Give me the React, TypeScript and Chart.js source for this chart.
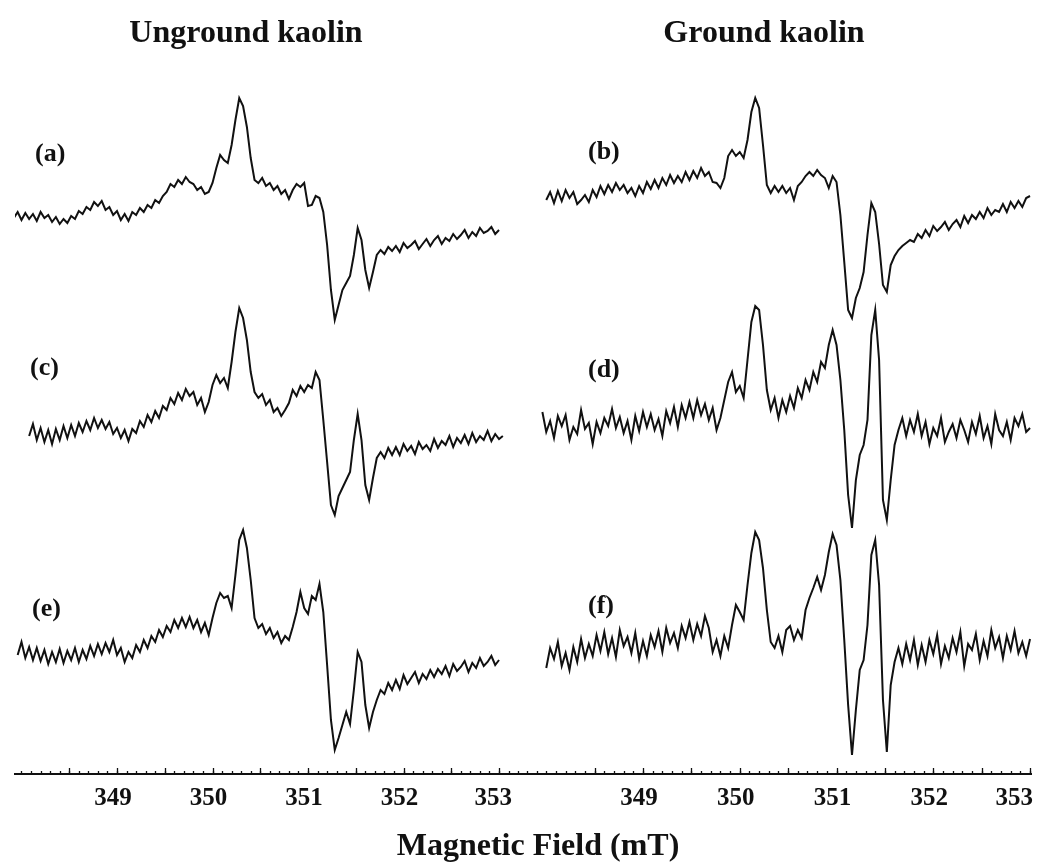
import React, { useEffect, useRef } from "react";
import { Chart, registerables } from "chart.js";

Chart.register(...registerables);

// Magnetic field sweep (mT), shared by every spectrum
const FIELD_MT = [
  347.92, 347.96, 348.00, 348.04, 348.08, 348.12, 348.16, 348.20, 348.24, 348.28,
  348.32, 348.36, 348.40, 348.44, 348.48, 348.52, 348.56, 348.60, 348.64, 348.68,
  348.72, 348.76, 348.80, 348.84, 348.88, 348.92, 348.96, 349.00, 349.04, 349.08,
  349.12, 349.16, 349.20, 349.24, 349.28, 349.32, 349.36, 349.40, 349.44, 349.48,
  349.52, 349.56, 349.60, 349.64, 349.68, 349.72, 349.76, 349.80, 349.84, 349.88,
  349.92, 349.96, 350.00, 350.04, 350.08, 350.12, 350.16, 350.20, 350.24, 350.28,
  350.32, 350.36, 350.40, 350.44, 350.48, 350.52, 350.56, 350.60, 350.64, 350.68,
  350.72, 350.76, 350.80, 350.84, 350.88, 350.92, 350.96, 351.00, 351.04, 351.08,
  351.12, 351.16, 351.20, 351.24, 351.28, 351.32, 351.36, 351.40, 351.44, 351.48,
  351.52, 351.56, 351.60, 351.64, 351.68, 351.72, 351.76, 351.80, 351.84, 351.88,
  351.92, 351.96, 352.00, 352.04, 352.08, 352.12, 352.16, 352.20, 352.24, 352.28,
  352.32, 352.36, 352.40, 352.44, 352.48, 352.52, 352.56, 352.60, 352.64, 352.68,
  352.72, 352.76, 352.80, 352.84, 352.88, 352.92, 352.96, 353.00, 353.04,
];

// EPR signal intensities (arbitrary units, relative to each trace's baseline)
const SPEC_A = [
  -1, 5, -3, 4, -2, 3, -4, 5, -1, 2,
  -5, 0, -7, -2, -6, 1, -2, 6, 3, 10,
  7, 15, 11, 16, 7, 10, 2, 6, -3, 3,
  -4, 5, 2, 9, 5, 12, 9, 17, 14, 21,
  25, 33, 30, 37, 33, 40, 35, 33, 27, 30,
  23, 25, 34, 49, 62, 57, 54, 72, 97, 119,
  111, 90, 59, 37, 34, 39, 31, 34, 27, 31,
  23, 27, 18, 27, 33, 30, 34, 11, 12, 21,
  19, 5, -28, -73, -103, -88, -73, -66, -59, -38,
  -11, -23, -53, -71, -55, -38, -33, -37, -30, -34,
  -29, -35, -26, -31, -28, -24, -32, -27, -22, -29,
  -23, -19, -27, -21, -24, -17, -22, -18, -13, -21,
  -15, -19, -11, -16, -14, -10, -17, -13, null,
];

const SPEC_C = [
  null, null, null, null, -12, 0, -16, -4, -18, -6,
  -20, -5, -16, -2, -14, -1, -12, 1, -8, 3,
  -6, 6, -4, 4, -5, 2, -10, -4, -14, -6,
  -17, -5, -9, 3, -3, 9, 2, 13, 6, 18,
  14, 26, 20, 31, 24, 35, 28, 32, 19, 26,
  12, 22, 39, 49, 41, 46, 36, 62, 92, 116,
  106, 84, 52, 32, 26, 30, 19, 24, 12, 16,
  8, 14, 21, 34, 28, 38, 32, 39, 36, 52,
  44, 4, -38, -81, -91, -72, -64, -56, -48, -16,
  10, -16, -61, -76, -54, -34, -28, -34, -24, -31,
  -23, -31, -20, -27, -22, -30, -18, -25, -21, -27,
  -15, -24, -17, -21, -12, -23, -14, -19, -11, -20,
  -9, -18, -12, -16, -7, -17, -10, -15, -12,
];

const SPEC_E = [
  null, -11, 2, -14, -3, -16, -4, -17, -6, -20,
  -8, -18, -5, -19, -7, -16, -4, -18, -6, -15,
  -2, -12, 0, -10, 1, -8, 4, -11, -4, -18,
  -8, -14, -1, -8, 4, -4, 8, 2, 14, 7,
  18, 12, 24, 16, 26, 17, 27, 16, 24, 12,
  21, 9, 26, 41, 51, 46, 48, 36, 69, 104,
  114, 96, 64, 26, 16, 20, 10, 16, 6, 12,
  1, 8, 4, 17, 32, 52, 36, 30, 48, 44,
  60, 32, -21, -76, -106, -94, -81, -68, -80, -46,
  -8, -18, -61, -84, -68, -56, -46, -50, -39, -46,
  -36, -45, -31, -40, -34, -28, -39, -30, -35, -26,
  -33, -25, -30, -22, -32, -20, -27, -23, -17, -28,
  -19, -24, -14, -22, -18, -12, -21, -16, null,
];

const SPEC_B = [
  null, null, 0, 8, -3, 9, -1, 10, 2, 8,
  -4, 0, 5, -2, 10, 3, 14, 6, 15, 8,
  17, 10, 15, 7, 12, 4, 14, 7, 18, 11,
  20, 12, 22, 15, 25, 17, 24, 18, 28, 20,
  29, 22, 32, 24, 28, 18, 17, 12, 22, 44,
  50, 44, 48, 42, 60, 88, 102, 92, 55, 15,
  7, 14, 8, 14, 7, 12, 0, 14, 18, 24,
  28, 24, 30, 25, 22, 12, 24, 18, -15, -62,
  -110, -118, -98, -88, -72, -35, -3, -12, -44, -85,
  -92, -65, -56, -50, -46, -43, -40, -42, -34, -38,
  -30, -36, -26, -31, -27, -22, -30, -24, -20, -27,
  -16, -23, -15, -19, -12, -18, -8, -15, -10, -12,
  -4, -12, -2, -8, -1, -7, 2, 4, null,
];

const SPEC_D = [
  null, 12, -8, 3, -14, 8, -2, 9, -16, -3,
  -10, 14, -5, 1, -20, 2, -9, 6, -2, 15,
  -4, 7, -9, 3, -16, 8, -7, 12, -3, 10,
  -6, 5, -12, 13, 1, 17, -3, 19, 6, 22,
  6, 24, 9, 20, 4, 16, -6, 6, 24, 42,
  52, 32, 38, 26, 64, 102, 118, 114, 79, 34,
  14, 26, 6, 24, 12, 28, 16, 36, 26, 44,
  34, 52, 42, 62, 56, 79, 94, 79, 44, -6,
  -71, -104, -56, -31, -21, 4, 89, 114, 64, -76,
  -96, -56, -21, -6, 6, -12, 4, -8, 10, -12,
  2, -20, -4, -12, 6, -18, -8, 0, -14, 4,
  -6, -18, 2, -10, 8, -14, -2, -20, 10, -6,
  -12, 2, -16, 6, -2, 10, -8, -4, null,
];

const SPEC_F = [
  null, null, -24, -4, -15, 2, -22, -9, -26, -3,
  -18, 5, -14, 0, -12, 9, -7, 12, -10, 6,
  -13, 14, -2, 7, -9, 11, -15, 3, -12, 9,
  -3, 13, -8, 16, 1, 11, -4, 18, 6, 22,
  4, 20, 8, 28, 16, -8, 4, -12, 8, -4,
  19, 39, 32, 24, 59, 91, 112, 104, 76, 34,
  2, -4, 8, -8, 14, 18, 4, 14, 6, 34,
  46, 56, 67, 54, 69, 92, 110, 99, 64, 4,
  -61, -111, -66, -26, -16, 19, 89, 104, 59, -56,
  -108, -41, -18, -4, -20, 0, -16, 4, -21, -1,
  -18, 4, -10, 9, -20, -2, -14, 6, -8, 12,
  -22, 0, -6, 10, -16, 3, -12, 14, -4, 7,
  -14, 8, -6, 13, -9, 2, -12, 5, null,
];

// vertical stacking offsets (a.u.) for the three traces of each panel
const OFFSETS_LEFT = [557, 350, 130];
const OFFSETS_RIGHT = [574, 350, 130];

const TICK_LABELS = [349, 350, 351, 352, 353];
const MAJOR_TICKS = [348.5, 349, 349.5, 350, 350.5, 351, 351.5, 352, 352.5, 353];

const FONT = '"Liberation Serif", "Times New Roman", Times, serif';
const INK = "#111";

const axisDecor = {
  id: "axisDecor",
  afterDraw(chart: any) {
    const sc = chart.scales.x;
    const ctx = chart.ctx;
    const y0 = chart.chartArea.bottom;
    ctx.save();
    ctx.strokeStyle = INK;
    ctx.lineWidth = 1.3;
    // minor ticks every 0.1 mT
    const start = Math.ceil(sc.min * 10) / 10;
    for (let v = start; v <= sc.max + 1e-6; v += 0.1) {
      const px = Math.round(sc.getPixelForValue(v)) + 0.5;
      ctx.beginPath();
      ctx.moveTo(px, y0);
      ctx.lineTo(px, y0 - 3);
      ctx.stroke();
    }
    MAJOR_TICKS.forEach((v) => {
      if (v < sc.min || v > sc.max) return;
      const px = Math.round(sc.getPixelForValue(v)) + 0.5;
      ctx.beginPath();
      ctx.moveTo(px, y0);
      ctx.lineTo(px, y0 - 6);
      ctx.stroke();
    });
    ctx.fillStyle = INK;
    ctx.font = `bold 25px ${FONT}`;
    ctx.textAlign = "center";
    ctx.textBaseline = "alphabetic";
    TICK_LABELS.forEach((v) => {
      if (v < sc.min || v > sc.max + 1e-6) return;
      const label = String(v);
      const w = ctx.measureText(label).width;
      let cx = sc.getPixelForValue(v) - 4;
      if (cx + w / 2 > chart.width - 9) cx = chart.width - 9 - w / 2;
      ctx.fillText(label, cx, y0 + 31);
    });
    ctx.restore();
  },
};

function makeConfig(
  specs: (number | null)[][],
  offsets: number[],
  xMin: number,
  xMax: number,
  padLeft: number,
  padRight: number
): any {
  return {
    type: "line",
    data: {
      datasets: specs.map((s, k) => ({
        data: FIELD_MT.map((x, i) => ({ x, y: s[i] == null ? null : (s[i] as number) + offsets[k] })),
        borderColor: INK,
        borderWidth: 2,
        pointRadius: 0,
        tension: 0,
        fill: false,
        spanGaps: false,
      })),
    },
    options: {
      animation: false,
      responsive: false,
      maintainAspectRatio: false,
      events: [],
      layout: { padding: { left: padLeft, right: padRight, top: 0, bottom: 0 }, autoPadding: false },
      plugins: { legend: { display: false }, tooltip: { enabled: false }, title: { display: false } },
      scales: {
        x: {
          type: "linear",
          min: xMin,
          max: xMax,
          grid: { display: false, drawTicks: false },
          border: { display: true, color: INK, width: 2 },
          ticks: { display: false },
          afterFit: (s: any) => {
            s.height = 88;
          },
        },
        y: { display: false, min: 0, max: 774 },
      },
    },
    plugins: [axisDecor],
  };
}

const textBase: React.CSSProperties = {
  position: "absolute",
  fontFamily: FONT,
  fontWeight: "bold",
  color: INK,
  whiteSpace: "nowrap",
  lineHeight: 1,
};

function Label({ text, left, top, size }: { text: string; left: number; top: number; size: number }) {
  return <div style={{ ...textBase, left, top, fontSize: size }}>{text}</div>;
}

function Centered({ text, cx, top, size }: { text: string; cx: number; top: number; size: number }) {
  return (
    <div style={{ ...textBase, left: cx - 300, width: 600, textAlign: "center", top, fontSize: size }}>{text}</div>
  );
}

export default function App() {
  const leftRef = useRef<HTMLCanvasElement | null>(null);
  const rightRef = useRef<HTMLCanvasElement | null>(null);

  useEffect(() => {
    document.body.style.margin = "0";
    document.body.style.background = "#fff";
    const charts: Chart[] = [];
    if (leftRef.current) {
      charts.push(
        new Chart(leftRef.current, makeConfig([SPEC_A, SPEC_C, SPEC_E], OFFSETS_LEFT, 347.932, 353.23, 15, 0))
      );
    }
    if (rightRef.current) {
      charts.push(
        new Chart(rightRef.current, makeConfig([SPEC_B, SPEC_D, SPEC_F], OFFSETS_RIGHT, 347.739, 353.01, 0, 11))
      );
    }
    return () => charts.forEach((c) => c.destroy());
  }, []);

  return (
    <div style={{ position: "relative", width: 1042, height: 862, overflow: "hidden", background: "#fff" }}>
      <canvas
        ref={leftRef}
        width={521}
        height={862}
        style={{ position: "absolute", left: 0, top: 0, width: 521, height: 862 }}
      />
      <canvas
        ref={rightRef}
        width={521}
        height={862}
        style={{ position: "absolute", left: 521, top: 0, width: 521, height: 862 }}
      />
      <Centered text="Unground kaolin" cx={246} top={15} size={32} />
      <Centered text="Ground kaolin" cx={764} top={15} size={32} />
      <Label text="(a)" left={35} top={140} size={26} />
      <Label text="(b)" left={588} top={138} size={26} />
      <Label text="(c)" left={30} top={354} size={26} />
      <Label text="(d)" left={588} top={356} size={26} />
      <Label text="(e)" left={32} top={595} size={26} />
      <Label text="(f)" left={588} top={592} size={26} />
      <Centered text="Magnetic Field (mT)" cx={538} top={828} size={32} />
    </div>
  );
}
